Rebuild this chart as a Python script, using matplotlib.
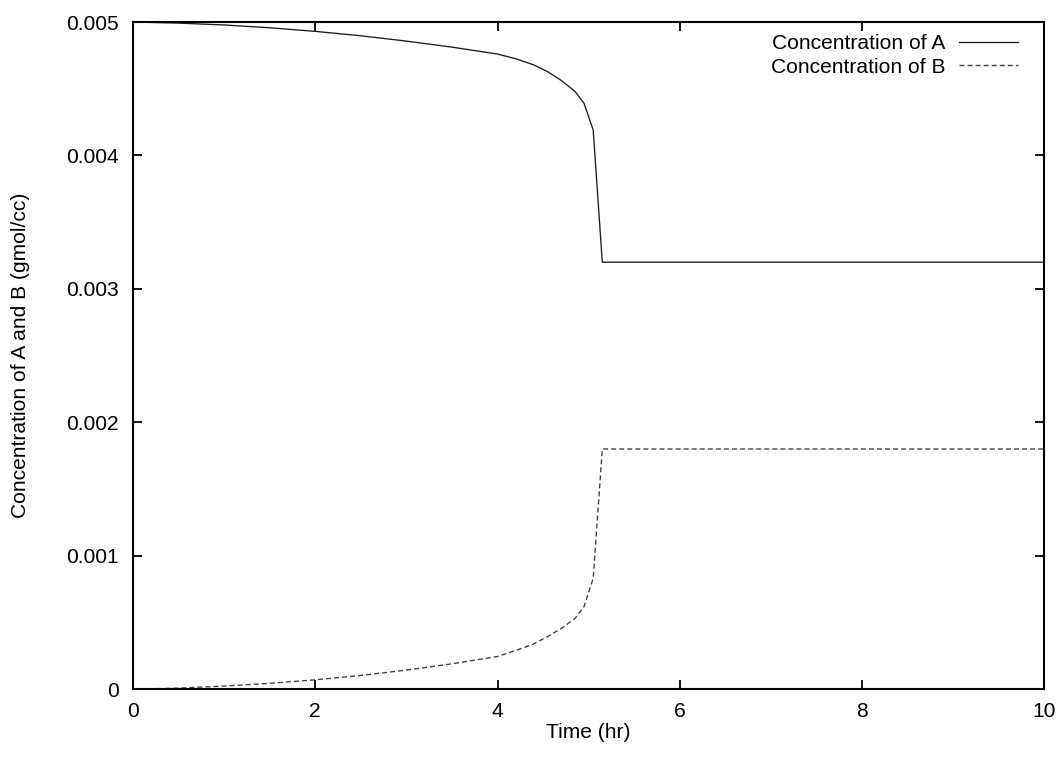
import matplotlib
matplotlib.use("Agg")
import matplotlib.pyplot as plt

# ---- data ----
time_hr = [0, 0.5, 1.0, 1.5, 2.0, 2.5, 3.0, 3.5, 4.0, 4.2, 4.4, 4.55, 4.7,
           4.85, 4.95, 5.05, 5.15, 10.0]
conc_A = [0.005, 0.004992, 0.004978, 0.004957, 0.00493, 0.004897, 0.004857,
          0.004812, 0.00476, 0.004725, 0.004678, 0.004628, 0.004562, 0.00448,
          0.00439, 0.00419, 0.0032, 0.0032]
conc_B = [0.0, 0.000008, 0.000023, 0.000044, 0.00007, 0.000103, 0.000143,
          0.00019, 0.000245, 0.00029, 0.00034, 0.000395, 0.000455, 0.00053,
          0.00062, 0.00083, 0.0018, 0.0018]
series_labels = ["Concentration of A", "Concentration of B"]
xticks = [0, 2, 4, 6, 8, 10]
xtick_labels = ["0", "2", "4", "6", "8", "10"]
yticks = [0, 0.001, 0.002, 0.003, 0.004, 0.005]
ytick_labels = ["0", "0.001", "0.002", "0.003", "0.004", "0.005"]

plt.rcParams["font.family"] = ["Liberation Sans", "DejaVu Sans"]
plt.rcParams["lines.scale_dashes"] = False

fig = plt.figure(figsize=(10.63, 7.57), dpi=100)
ax = fig.add_axes([0.1251, 0.0896, 0.9824 - 0.1251, 0.9709 - 0.0896])

ax.plot(time_hr, conc_A, color="#1a1a1a", lw=0.95, label=series_labels[0])
ax.plot(time_hr, conc_B, color="#3a3a3a", lw=0.95, dashes=(3.6, 2.2),
        label=series_labels[1])

ax.set_xlim(0, 10)
ax.set_ylim(0, 0.005)
ax.set_xticks(xticks)
ax.set_xticklabels(xtick_labels)
ax.set_yticks(yticks)
ax.set_yticklabels(ytick_labels)

fs = 15.1
ax.tick_params(direction="in", length=6.5, width=1.3, top=True, right=True,
               labelsize=fs, colors="black")
ax.tick_params(axis="y", pad=10)
ax.tick_params(axis="x", pad=9)
for s in ax.spines.values():
    s.set_linewidth(1.5)

ax.set_xlabel("Time (hr)", fontsize=fs, labelpad=2)
ax.set_ylabel("Concentration of A and B (gmol/cc)", fontsize=fs, labelpad=26)

ax.legend(loc="upper right", frameon=False, markerfirst=False, fontsize=fs,
          handlelength=2.81, handletextpad=0.62, borderaxespad=0.0,
          labelspacing=0.2, bbox_to_anchor=(0.980, 0.994))

fig.savefig("out.png", dpi=100)
